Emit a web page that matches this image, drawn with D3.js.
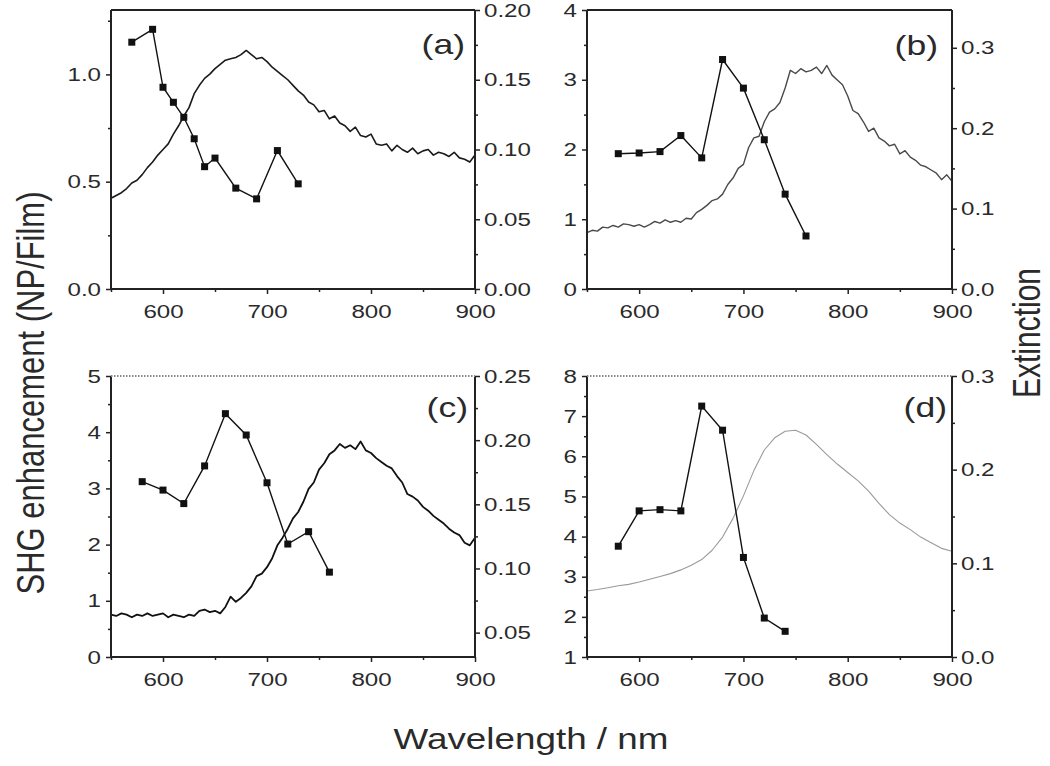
<!DOCTYPE html>
<html><head><meta charset="utf-8">
<script src="https://cdn.jsdelivr.net/npm/d3@7"></script>
<style>
body{margin:0;background:#fff}
svg{display:block}
text{font-family:"Liberation Sans",Arial,sans-serif;fill:#2a2a2a}
</style>
</head><body>
<svg id="chart" width="1050" height="766"></svg>
<script>
// ---------- data ----------
const specWavelengths = [550,555,560,565,570,575,580,585,590,595,600,605,610,615,620,625,630,635,640,645,650,655,660,665,670,675,680,685,690,695,700,705,710,715,720,725,730,735,740,745,750,755,760,765,770,775,780,785,790,795,800,805,810,815,820,825,830,835,840,845,850,855,860,865,870,875,880,885,890,895,900];
const specWavelengthsD = [550,560,570,580,590,600,610,620,630,640,650,660,670,680,690,700,710,720,730,740,750,760,770,780,790,800,810,820,830,840,850,860,870,880,890,900];

const extinctionA = [.065,.067,.069,.072,.076,.078,.082,.087,.091,.096,.100,.104,.111,.117,.124,.130,.140,.146,.151,.154,.158,.161,.164,.165,.166,.168,.171,.168,.165,.166,.163,.159,.156,.153,.150,.146,.142,.139,.134,.132,.127,.128,.122,.124,.119,.117,.113,.116,.110,.109,.111,.104,.103,.104,.099,.103,.100,.098,.101,.097,.099,.100,.096,.098,.097,.095,.098,.094,.093,.091,.096];
const extinctionB = [.070,.073,.072,.077,.076,.079,.077,.081,.080,.078,.080,.077,.080,.084,.082,.086,.083,.085,.083,.088,.087,.095,.099,.104,.110,.112,.118,.130,.138,.150,.155,.176,.188,.190,.208,.220,.224,.232,.250,.272,.268,.274,.270,.272,.276,.268,.278,.266,.260,.254,.240,.222,.218,.208,.196,.200,.188,.184,.178,.180,.168,.172,.164,.160,.154,.152,.148,.144,.136,.142,.134];
const extinctionC = [.064,.063,.065,.064,.062,.064,.063,.065,.063,.064,.065,.062,.064,.063,.062,.064,.063,.067,.068,.066,.067,.065,.070,.078,.074,.077,.081,.086,.094,.096,.101,.108,.118,.124,.131,.139,.144,.152,.162,.167,.177,.182,.189,.192,.197,.194,.196,.193,.199,.192,.190,.186,.183,.180,.178,.172,.167,.158,.156,.153,.148,.145,.141,.138,.135,.131,.128,.126,.120,.118,.124];
const extinctionD = [.0705,.072,.074,.076,.0775,.080,.083,.086,.089,.093,.098,.104,.114,.128,.148,.172,.199,.221,.234,.241,.242,.237,.227,.216,.206,.197,.188,.177,.164,.152,.143,.136,.128,.122,.116,.113];

const shgWavelengthsA = [570,590,600,610,620,630,640,650,670,690,710,730];
const shgA = [1.15,1.21,0.94,0.87,0.80,0.70,0.57,0.61,0.47,0.42,0.645,0.49];
const shgWavelengthsB = [580,600,620,640,660,680,700,720,740,760];
const shgB = [1.94,1.95,1.97,2.20,1.88,3.29,2.88,2.14,1.36,0.76];
const shgWavelengthsC = [580,600,620,640,660,680,700,720,740,760];
const shgC = [3.12,2.97,2.73,3.40,4.33,3.95,3.10,2.01,2.23,1.51];
const shgWavelengthsD = [580,600,620,640,660,680,700,720,740];
const shgD = [3.76,4.64,4.67,4.64,7.25,6.65,3.48,1.97,1.64];

const xTicks = [600,700,800,900];
const xMinor = [550,650,750,850];
const panelLabels = ["(a)","(b)","(c)","(d)"];
const leftTicksA = [0,0.5,1.0], leftMinorA = [0.25,0.75,1.25];
const rightTicksA = [0,0.05,0.10,0.15,0.20], rightMinorA = [0.025,0.075,0.125,0.175];
const leftTicksB = [0,1,2,3,4], leftMinorB = [0.5,1.5,2.5,3.5];
const rightTicksB = [0,0.1,0.2,0.3], rightMinorB = [0.05,0.15,0.25];
const leftTicksC = [0,1,2,3,4,5], leftMinorC = [0.5,1.5,2.5,3.5,4.5];
const rightTicksC = [0.05,0.10,0.15,0.20,0.25], rightMinorC = [0.075,0.125,0.175,0.225];
const leftTicksD = [1,2,3,4,5,6,7,8], leftMinorD = [1.5,2.5,3.5,4.5,5.5,6.5,7.5];
const rightTicksD = [0,0.1,0.2,0.3], rightMinorD = [0.05,0.15,0.25];

// ---------- layout ----------
const SX = 1.27;
const svg = d3.select("#chart");
const panels = [
  {x0:111,x1:475,y0:10,y1:289, ld:[0,1.3], lt:leftTicksA, lm:leftMinorA, lf:d3.format(".1f"),
   rd:[0,0.20], rt:rightTicksA, rm:rightMinorA, rf:d3.format(".2f"),
   sw:specWavelengths, ext:extinctionA, extColor:"#1a1a1a", extW:1.6,
   shw:shgWavelengthsA, shg:shgA, lab:panelLabels[0], labX:465, labY:54, topDotted:false},
  {x0:587,x1:952,y0:10,y1:289, ld:[0,4], lt:leftTicksB, lm:leftMinorB, lf:d3.format("d"),
   rd:[0,0.347], rt:rightTicksB, rm:rightMinorB, rf:d3.format(".1f"),
   sw:specWavelengths, ext:extinctionB, extColor:"#4a4a4a", extW:1.4,
   shw:shgWavelengthsB, shg:shgB, lab:panelLabels[1], labX:938, labY:55, topDotted:false},
  {x0:111,x1:475,y0:376,y1:657, ld:[0,5], lt:leftTicksC, lm:leftMinorC, lf:d3.format("d"),
   rd:[0.031,0.25], rt:rightTicksC, rm:rightMinorC, rf:d3.format(".2f"),
   sw:specWavelengths, ext:extinctionC, extColor:"#111", extW:1.8,
   shw:shgWavelengthsC, shg:shgC, lab:panelLabels[2], labX:468, labY:417, topDotted:true},
  {x0:587,x1:952,y0:376,y1:657, ld:[1,8], lt:leftTicksD, lm:leftMinorD, lf:d3.format("d"),
   rd:[0,0.3], rt:rightTicksD, rm:rightMinorD, rf:d3.format(".1f"),
   sw:specWavelengthsD, ext:extinctionD, extColor:"#9a9a9a", extW:1.1,
   shw:shgWavelengthsD, shg:shgD, lab:panelLabels[3], labX:947, labY:417, topDotted:true}
];

const axisColor = "#222";
const tickFont = 19;

panels.forEach(p => {
  const x = d3.scaleLinear().domain([550,900]).range([p.x0,p.x1]);
  const yL = d3.scaleLinear().domain(p.ld).range([p.y1,p.y0]);
  const yR = d3.scaleLinear().domain(p.rd).range([p.y1,p.y0]);
  const g = svg.append("g");

  // extinction spectrum (right axis)
  g.append("path")
    .datum(p.sw.map((w,i)=>[w,p.ext[i]]))
    .attr("fill","none").attr("stroke",p.extColor).attr("stroke-width",p.extW)
    .attr("stroke-linejoin","round")
    .attr("d", d3.line().x(d=>x(d[0])).y(d=>yR(d[1])));

  // SHG enhancement (left axis)
  const shgData = p.shw.map((w,i)=>[w,p.shg[i]]);
  g.append("path").datum(shgData)
    .attr("fill","none").attr("stroke","#111").attr("stroke-width",1.4)
    .attr("d", d3.line().x(d=>x(d[0])).y(d=>yL(d[1])));
  g.selectAll("rect.m").data(shgData).join("rect")
    .attr("x",d=>x(d[0])-3.5).attr("y",d=>yL(d[1])-3.5)
    .attr("width",7).attr("height",7).attr("fill","#111");

  // axes
  function styleAxis(sel){
    sel.select(".domain").remove();
    sel.selectAll("line").attr("stroke",axisColor).attr("stroke-width",1.5);
    sel.selectAll("text").attr("font-size",tickFont).attr("fill","#2a2a2a")
      .attr("font-family","Liberation Sans, Arial, sans-serif");
  }
  const bx = g.append("g").attr("transform",`translate(0,${p.y1})`)
    .call(d3.axisBottom(x).tickValues(xTicks).tickSize(5).tickFormat(d3.format("d")));
  styleAxis(bx);
  bx.selectAll("text").attr("y",16).attr("transform",`scale(${SX},1)`);
  const bxm = g.append("g").attr("transform",`translate(0,${p.y1})`)
    .call(d3.axisBottom(x).tickValues(xMinor).tickSize(3).tickFormat(""));
  styleAxis(bxm);

  const la = g.append("g").attr("transform",`translate(${p.x0},0)`)
    .call(d3.axisLeft(yL).tickValues(p.lt).tickSize(5).tickFormat(p.lf));
  styleAxis(la);
  la.selectAll("text").attr("x",-10/SX).attr("transform",`scale(${SX},1)`);
  const lam = g.append("g").attr("transform",`translate(${p.x0},0)`)
    .call(d3.axisLeft(yL).tickValues(p.lm).tickSize(3).tickFormat(""));
  styleAxis(lam);

  const ra = g.append("g").attr("transform",`translate(${p.x1},0)`)
    .call(d3.axisRight(yR).tickValues(p.rt).tickSize(5).tickFormat(p.rf));
  styleAxis(ra);
  ra.selectAll("text").attr("x",9/SX).attr("transform",`scale(${SX},1)`);
  const ram = g.append("g").attr("transform",`translate(${p.x1},0)`)
    .call(d3.axisRight(yR).tickValues(p.rm).tickSize(3).tickFormat(""));
  styleAxis(ram);

  // frame
  const f = g.append("g").attr("stroke",axisColor).attr("stroke-width",2);
  f.append("line").attr("x1",p.x0).attr("x2",p.x1).attr("y1",p.y1).attr("y2",p.y1);
  f.append("line").attr("x1",p.x0).attr("x2",p.x0).attr("y1",p.y0).attr("y2",p.y1);
  f.append("line").attr("x1",p.x1).attr("x2",p.x1).attr("y1",p.y0).attr("y2",p.y1);
  const top = f.append("line").attr("x1",p.x0).attr("x2",p.x1).attr("y1",p.y0).attr("y2",p.y0);
  if (p.topDotted) top.attr("stroke","#8a8a8a").attr("stroke-dasharray","1.5,1.5").attr("stroke-width",2.2);

  // panel label
  g.append("text").text(p.lab).attr("text-anchor","end")
    .attr("font-size",28)
    .attr("transform",`translate(${p.labX},${p.labY}) scale(${SX},1)`);
});

// axis titles
svg.append("text").text("SHG enhancement (NP/Film)")
  .attr("text-anchor","middle").attr("font-size",31)
  .attr("transform",`translate(44,393) scale(${SX},1) rotate(-90)`);
svg.append("text").text("Extinction")
  .attr("text-anchor","middle").attr("font-size",30)
  .attr("transform",`translate(1040,333) scale(${SX},1) rotate(-90)`);
svg.append("text").text("Wavelength / nm")
  .attr("text-anchor","middle").attr("font-size",29)
  .attr("transform",`translate(531,749) scale(${SX},1)`);
</script>
</body></html>
